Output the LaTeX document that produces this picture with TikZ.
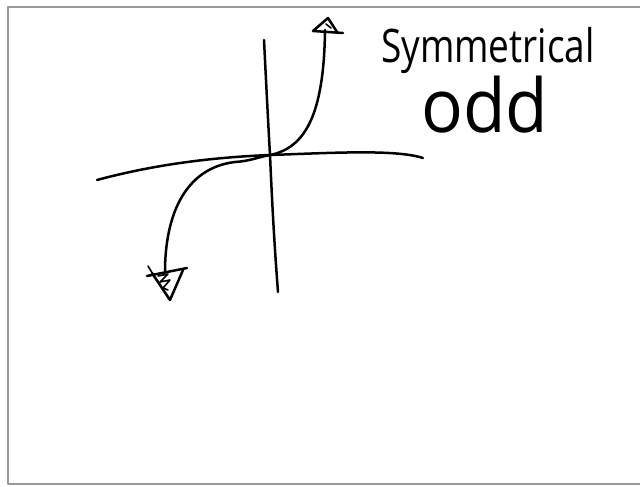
\documentclass[tikz,border=0pt]{standalone}
\usepackage{fontspec}
\setmainfont{Open Sans}
\usetikzlibrary{calc}

\begin{document}
\begin{tikzpicture}[x=1pt, y=-1pt, line cap=round, line join=round,
    pen/.style={black, line width=2.5pt}]
  \useasboundingbox (0,0) rectangle (640,487);
  %% ── Page frame ─────────────────────────────────────────────
  \fill[white] (0,0) rectangle (640,487);
  \draw[gray!80, line width=1.4pt] (643,7) -- (8,7) -- (8,484) -- (643,484);

  %% ── Axes ───────────────────────────────────────────────────
  \coordinate (O) at (270,155);
  \coordinate (ytop) at (264,40);
  \coordinate (ybot) at (278,292);
  \coordinate (xleft) at (97,180);
  \coordinate (xright) at (423,158);
  \draw[pen] (ytop) .. controls (266,80) and (268,120) .. (O)
    .. controls (272,200) and (274,240) .. (ybot);
  \draw[pen] (xleft) .. controls (160,163) and (220,157) .. (O)
    .. controls (330,153) and (395,149) .. (xright);

  %% ── Cubic-like curve ───────────────────────────────────────
  \coordinate (tipU) at (325,30);
  \coordinate (tipD) at (165,272);
  \draw[pen] (O) .. controls (305,148) and (324,115) .. (tipU);
  \draw[pen] (O) .. controls (255,158) and (250,161) .. (235,162)
    .. controls (185,168) and (165,215) .. (tipD);

  %% Top arrowhead (open)
  \draw[pen] (343,33) -- (313,31) -- (328,18) -- (337,32);
  \draw[pen, line width=1.6pt] (326,24) -- (331,28);
  %% Bottom arrowhead (hatched)
  \draw[pen] (147,276) -- (187,268);
  \draw[pen] (152,273) -- (170,300) -- (183,270);
  \draw[pen, line width=1.6pt] (148,266) -- (154,276);
  \draw[pen, line width=1.6pt] (158,276) -- (168,274) -- (160,282)
    -- (170,280) -- (163,288) -- (168,290);

  %% ── Labels ─────────────────────────────────────────────────
  \node[inner sep=0pt] (sym) at (488,50)
    {\scalebox{1}[1.25]{\fontsize{37}{37}\selectfont Symmetrical}};
  \node[inner sep=0pt] (odd) at (485,105)
    {\scalebox{1.12}[1.2]{\fontsize{62}{62}\selectfont odd}};
\end{tikzpicture}
\end{document}
